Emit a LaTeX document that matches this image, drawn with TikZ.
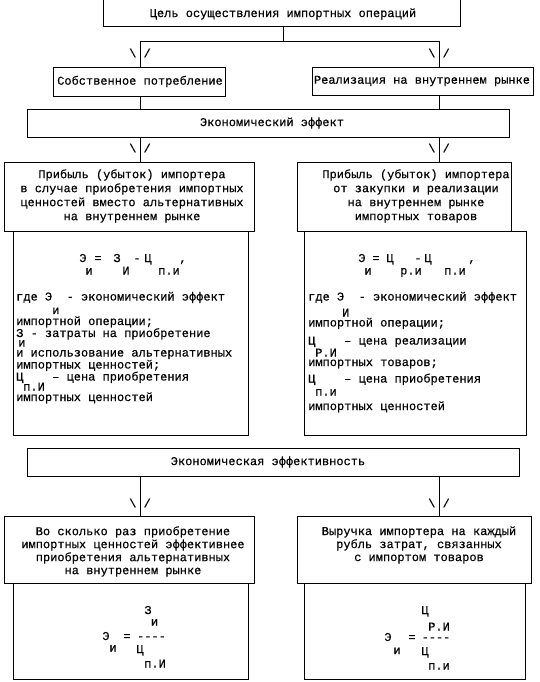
\documentclass[tikz,border=0pt]{standalone}
\usepackage{fontspec}
\newfontfamily\mono[FakeBold=0.35]{Liberation Mono}
\usetikzlibrary{fit}
\tikzset{
  box/.style={draw=black, line width=0.9pt, inner sep=0pt},
  conn/.style={draw=black, line width=0.9pt},
  txt/.style={inner sep=0pt, font=\mono\fontsize{12}{14}\selectfont, text=black},
  hdr/.style={txt, align=center},
  hdrb/.style={txt, align=center, font=\mono\fontsize{12}{13}\selectfont},
  ln/.style={txt, anchor=base west},
  pc/.style={txt, anchor=base},
  mk/.style={txt},
}
\begin{document}
\begin{tikzpicture}[x=1pt,y=-1pt]
\useasboundingbox (0,0) rectangle (539,682);
\clip (0,0) rectangle (539,682);
\fill[white] (0,0) rectangle (539,682);

% boxes
\node[box, fit={(103,-6) (460,26.5)}] (top) {};
\node[box, fit={(53,67) (225,96)}] (own) {};
\node[box, fit={(312,67) (533,95)}] (sale) {};
\node[box, fit={(27,109) (509,137)}] (eff) {};
\node[box, fit={(4,162) (254,231)}] (profL) {};
\node[box, fit={(297,162) (511,231)}] (profR) {};
\node[box, fit={(13,231) (248,435)}] (formL) {};
\node[box, fit={(304,231) (526,435)}] (formR) {};
\node[box, fit={(27,448) (519,476)}] (effB) {};
\node[box, fit={(4,516) (254,583)}] (timesL) {};
\node[box, fit={(297,516) (531,583)}] (revR) {};
\node[box, fit={(13,583) (248,679)}] (fracL) {};
\node[box, fit={(304,583) (525,679)}] (fracR) {};

% connectors
\coordinate (split) at (283.5,41);
\coordinate (jl) at (140,41);
\coordinate (jr) at (439,41);
\draw[conn] (top.south -| split) -- (split);
\draw[conn] (jl) -- (jr);
\draw[conn] (jl) -- (jl |- own.north);
\draw[conn] (jr) -- (jr |- sale.north);
\draw[conn] (own.south -| jl) -- (jl |- eff.north);
\draw[conn] (sale.south -| jr) -- (jr |- eff.north);
\draw[conn] (eff.south -| jl) -- (jl |- profL.north);
\draw[conn] (eff.south -| jr) -- (jr |- profR.north);
\draw[conn] (effB.south -| jl) -- (jl |- timesL.north);
\draw[conn] (effB.south -| jr) -- (jr |- revR.north);

% arrow marks
\node[mk] (m1) at (140,53) {\textbackslash\ /};
\node[mk] (m2) at (439,53) {\textbackslash\ /};
\node[mk] (m3) at (140,148) {\textbackslash\ /};
\node[mk] (m4) at (439,148) {\textbackslash\ /};
\node[mk] (m5) at (140,503) {\textbackslash\ /};
\node[mk] (m6) at (439,503) {\textbackslash\ /};

% box texts
\node[txt] (toptext) at (283,14) {Цель осуществления импортных операций};
\node[txt] (owntext) at (140,81.5) {Собственное потребление};
\node[txt] (saletext) at (422,81) {Реализация на внутреннем рынке};
\node[txt] (efftext) at (272,123) {Экономический эффект};
\node[hdr] (profLtext) at (132,196) {Прибыль (убыток) импортера\\в случае приобретения импортных\\ценностей вместо альтернативных\\на внутреннем рынке};
\node[hdr] (profRtext) at (416,196) {Прибыль (убыток) импортера\\от закупки и реализации\\на внутреннем рынке\\импортных товаров};
\node[txt] (effBtext) at (268,462) {Экономическая эффективность};
\node[hdrb] (timesLtext) at (133,551.5) {Во сколько раз приобретение\\импортных ценностей эффективнее\\приобретения альтернативных\\на внутреннем рынке};
\node[hdrb] (revRtext) at (419,545) {Выручка импортера на каждый\\рубль затрат, связанных\\с импортом товаров};

% upper-left formula
\node[pc] (fL1) at (83,262) {Э};
\node[pc] (fL2) at (98,262) {=};
\node[pc] (fL3) at (117,262) {З};
\node[pc] (fL4) at (137,262) {-};
\node[pc] (fL5) at (148,262) {Ц};
\node[pc] (fL6) at (183,262) {,};
\node[pc] (fL7) at (89,274.5) {и};
\node[pc] (fL8) at (126,274.5) {И};
\node[pc] (fL9) at (169,274.5) {п.и};

% upper-right formula
\node[pc] (fR1) at (362,262) {Э};
\node[pc] (fR2) at (376,262) {=};
\node[pc] (fR3) at (390,262) {Ц};
\node[pc] (fR4) at (418,262) {-};
\node[pc] (fR5) at (428,262) {Ц};
\node[pc] (fR6) at (472,262) {,};
\node[pc] (fR7) at (368,274.5) {и};
\node[pc] (fR8) at (411,274.5) {р.и};
\node[pc] (fR9) at (455,274.5) {п.и};

% left explanation
\node[ln] (eL1) at (16,300.5) {где Э~~- экономический эффект};
\node[ln] (eL2) at (52,314) {и};
\node[ln] (eL3) at (16,325) {импортной операции;};
\node[ln] (eL4) at (16,337) {З - затраты на приобретение};
\node[ln] (eL5) at (18,346.5) {и};
\node[ln] (eL6) at (16,356.5) {и использование альтернативных};
\node[ln] (eL7) at (16,368.5) {импортных ценностей;};
\node[ln] (eL8) at (16,380.5) {Ц~~~~– цена приобретения};
\node[ln] (eL9) at (23,390.5) {п.И};
\node[ln] (eL10) at (16,401) {импортных ценностей};

% right explanation
\node[ln] (eR1) at (308,300.5) {где Э~~- экономический эффект};
\node[ln] (eR2) at (342,316.5) {И};
\node[ln] (eR3) at (308,326.5) {импортной операции;};
\node[ln] (eR4) at (308,344.5) {Ц~~~~– цена реализации};
\node[ln] (eR5) at (315,356.5) {Р.И};
\node[ln] (eR6) at (308,366) {импортных товаров;};
\node[ln] (eR7) at (308,382.5) {Ц~~~~– цена приобретения};
\node[ln] (eR8) at (315,395.5) {п.и};
\node[ln] (eR9) at (308,410) {импортных ценностей};

% lower-left fraction
\node[pc] (qL1) at (148,614) {З};
\node[pc] (qL2) at (154.5,625.5) {и};
\node[pc] (qL3) at (106,640) {Э};
\node[pc] (qL4) at (127,640) {=};
\node[pc] (qL5) at (151.5,640) {----};
\node[pc] (qL6) at (113,651.5) {и};
\node[pc] (qL7) at (140,653) {Ц};
\node[pc] (qL8) at (155,667.5) {п.И};

% lower-right fraction
\node[pc] (qR1) at (425,614) {Ц};
\node[pc] (qR2) at (439,630.5) {Р.И};
\node[pc] (qR3) at (388,641) {Э};
\node[pc] (qR4) at (412,641) {=};
\node[pc] (qR5) at (436,641) {----};
\node[pc] (qR6) at (397,654) {и};
\node[pc] (qR7) at (425,655) {Ц};
\node[pc] (qR8) at (439,669.5) {п.и};
\end{tikzpicture}
\end{document}
